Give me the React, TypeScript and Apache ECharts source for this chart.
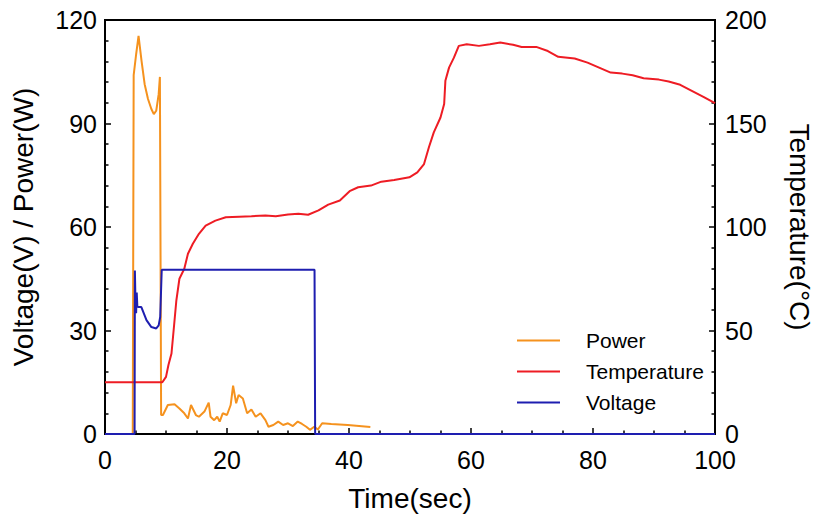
import React, { useEffect, useRef } from "react";
import * as echarts from "echarts";

// Time axis (sec)
const xTicks = [0, 20, 40, 60, 80, 100];

// Power (W), left axis
const powerTime = [0, 4.55, 4.7, 5.1, 5.5, 6.0, 6.5, 7.05, 7.6, 8.0, 8.4, 8.8, 9.0, 9.2, 9.5, 10.3, 11.4, 12.2, 13.0, 13.6, 14.1, 14.9, 15.4, 16.3, 17.0, 17.3, 17.9, 18.4, 18.8, 19.3, 20.0, 20.6, 21.0, 21.5, 21.9, 22.6, 23.3, 24.0, 24.7, 25.5, 26.3, 26.8, 27.6, 28.4, 29.2, 30.0, 30.8, 31.6, 32.3, 33.0, 33.6, 34.3, 34.9, 35.6, 37.1, 39.8, 43.5];
const powerValues = [0, 0, 104, 110, 115.4, 108, 101.4, 97.1, 94.2, 92.7, 93.7, 98.5, 103.5, 5.5, 5.5, 8.4, 8.6, 7.4, 6.0, 4.5, 8.4, 5.5, 5.0, 6.5, 9.1, 5.0, 4.0, 5.0, 3.6, 6.0, 5.5, 8.4, 14.0, 8.9, 11.3, 10.3, 6.0, 7.1, 5.0, 6.0, 4.0, 2.1, 2.6, 3.6, 2.6, 3.1, 2.3, 3.6, 2.9, 2.1, 1.2, 2.1, 1.3, 3.1, 2.9, 2.6, 2.0];

// Temperature (°C), right axis
const tempTime = [0, 9.4, 10.0, 10.4, 10.9, 11.3, 11.7, 12.2, 13.0, 13.6, 14.4, 15.4, 16.5, 18.1, 19.8, 22, 24, 26.3, 28, 30, 31.7, 33.3, 35, 36.6, 38.5, 40.1, 41.5, 43.6, 45.3, 47.4, 49.9, 51.2, 52.3, 53.1, 53.9, 55.0, 55.6, 55.8, 56.4, 57.2, 58.0, 59.3, 61.3, 63.1, 64.8, 66.9, 68.3, 70.7, 72.6, 74.3, 77, 79.1, 81, 82.9, 84.8, 86.5, 88.3, 90.8, 92.4, 94.3, 96.2, 98.1, 100];
const tempValues = [25, 25, 27.6, 33.3, 38.9, 51.7, 64.6, 75, 79.8, 87.1, 91.9, 96.7, 100.7, 103.1, 104.7, 105, 105.2, 105.5, 105.2, 106, 106.4, 105.9, 108, 110.8, 112.8, 117.3, 119.2, 120, 121.9, 122.7, 124, 126.4, 130.4, 138.5, 145.7, 152.9, 159.4, 170.6, 177, 181.8, 187.5, 188.3, 187.5, 188.3, 189.1, 188, 187, 187, 185, 182.2, 181.4, 179.4, 177, 174.6, 174.1, 173.3, 171.9, 171.2, 170.3, 168.7, 165.8, 162.9, 159.8];

// Voltage (V), left axis
const voltTime = [0, 4.85, 4.9, 5.0, 5.1, 5.2, 5.3, 5.5, 5.96, 6.8, 7.6, 8.4, 8.8, 9.05, 9.3, 34.35, 34.45, 100];
const voltValues = [0, 0, 47.4, 38, 35, 41, 37, 36.8, 36.8, 33, 31, 30.6, 31.5, 33.9, 47.6, 47.6, 0, 0];

const seriesNames = ["Power", "Temperature", "Voltage"];
const colors = ["#F5921E", "#EE1C24", "#1E1EB0"];

const zip = (a: number[], b: number[]) => a.map((t, i) => [t, b[i]]);

export default function App() {
  const ref = useRef<HTMLDivElement>(null);
  useEffect(() => {
    if (!ref.current) return;
    const chart = echarts.init(ref.current, null, { renderer: "svg" });
    const font = "'Liberation Sans', Arial, sans-serif";
    const axisCommon = {
      axisLine: { show: true, onZero: false, lineStyle: { color: "#000", width: 2 } },
      axisTick: { show: true, inside: true, length: 6, lineStyle: { color: "#000", width: 1.5 } },
      minorTick: { show: true, length: 3.5, lineStyle: { color: "#000", width: 1.5 } },
      splitLine: { show: false },
      axisLabel: { color: "#000", fontSize: 25, fontFamily: font, lineHeight: 20 },
      nameTextStyle: { color: "#000", fontSize: 28, fontFamily: font },
    };
    chart.setOption({
      animation: false,
      backgroundColor: "#fff",
      grid: {
        left: 105, right: 101, top: 20, bottom: 86,
        show: true, borderColor: "#000", borderWidth: 2, containLabel: false,
      },
      legend: {
        show: true,
        orient: "vertical",
        left: 512,
        top: 324,
        itemWidth: 43,
        itemHeight: 2,
        itemGap: 8,
        icon: "rect",
        data: seriesNames,
        textStyle: { color: "#000", fontSize: 21, fontFamily: font, padding: [0, 0, 0, 21], lineHeight: 23 },
      },
      xAxis: {
        type: "value",
        min: 0, max: 100, interval: 20,
        name: "Time(sec)",
        nameLocation: "middle",
        nameGap: 50,
        ...axisCommon,
        minorTick: { ...axisCommon.minorTick, splitNumber: 4 },
        axisLabel: { ...axisCommon.axisLabel, margin: 16, formatter: (v: number) => (xTicks.includes(v) ? String(v) : "") },
      },
      yAxis: [
        {
          type: "value",
          min: 0, max: 120, interval: 30,
          name: "Voltage(V) / Power(W)",
          nameLocation: "middle",
          nameGap: 68,
          position: "left",
          ...axisCommon,
          minorTick: { ...axisCommon.minorTick, splitNumber: 5 },
          axisLabel: { ...axisCommon.axisLabel, margin: 8 },
        },
        {
          type: "value",
          min: 0, max: 200, interval: 50,
          name: "Temperature(°C)",
          nameLocation: "middle",
          nameGap: 70,
          nameRotate: -90,
          position: "right",
          ...axisCommon,
          minorTick: { ...axisCommon.minorTick, splitNumber: 5 },
          axisLabel: { ...axisCommon.axisLabel, margin: 10 },
        },
      ],
      series: [
        {
          name: seriesNames[0], type: "line", yAxisIndex: 0, symbol: "none",
          data: zip(powerTime, powerValues),
          lineStyle: { color: colors[0], width: 2 }, itemStyle: { color: colors[0] },
        },
        {
          name: seriesNames[1], type: "line", yAxisIndex: 1, symbol: "none",
          data: zip(tempTime, tempValues),
          lineStyle: { color: colors[1], width: 2 }, itemStyle: { color: colors[1] },
        },
        {
          name: seriesNames[2], type: "line", yAxisIndex: 0, symbol: "none",
          data: zip(voltTime, voltValues),
          lineStyle: { color: colors[2], width: 2 }, itemStyle: { color: colors[2] },
        },
      ],
    });
    return () => chart.dispose();
  }, []);
  return <div ref={ref} style={{ width: 821, height: 520, position: "absolute", left: 0, top: 0 }} />;
}
